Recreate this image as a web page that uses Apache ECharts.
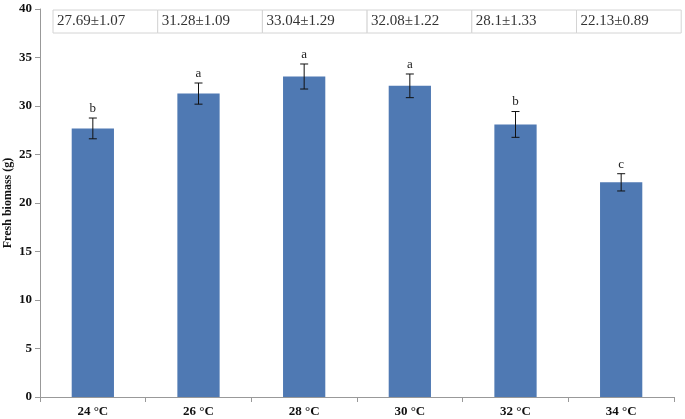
<!DOCTYPE html>
<html><head><meta charset="utf-8">
<script src="https://cdn.jsdelivr.net/npm/echarts@6/dist/echarts.min.js"></script>
<style>html,body{margin:0;padding:0;background:#fff}#c{width:685px;height:419px}</style>
</head><body><div id="c"></div>
<script>
const categories = ['24 °C','26 °C','28 °C','30 °C','32 °C','34 °C'];
const means = [27.69, 31.28, 33.04, 32.08, 28.1, 22.13];
const sds = [1.07, 1.09, 1.29, 1.22, 1.33, 0.89];
const letters = ['b','a','a','a','b','c'];
const tableTexts = ['27.69±1.07','31.28±1.09','33.04±1.29','32.08±1.22','28.1±1.33','22.13±0.89'];
const yTicks = [0,5,10,15,20,25,30,35,40];

const chart = echarts.init(document.getElementById('c'));
const serif = '"Liberation Serif","Times New Roman",serif';

const tableLeft = 53, tableTop = 10, cellW = 104.7, cellH = 23;
const graphic = [];
tableTexts.forEach((t,i)=>{
  graphic.push({type:'rect', shape:{x:tableLeft+i*cellW, y:tableTop, width:cellW, height:cellH},
    style:{fill:'#fff', stroke:'#d4d4d4', lineWidth:1}, z:10});
  graphic.push({type:'text', x:tableLeft+i*cellW+4, y:tableTop+cellH/2,
    style:{text:t, font:'15px '+serif, fill:'#333', verticalAlign:'middle'}, z:11});
});

chart.setOption({
  animation:false,
  grid:{left:40, right:11, top:9, bottom:22, containLabel:false, outerBoundsMode:'none'},
  xAxis:{type:'category', data:categories,
    axisLine:{lineStyle:{color:'#999'}},
    axisTick:{show:true, alignWithLabel:false, length:5, lineStyle:{color:'#999'}},
    axisLabel:{color:'#111', fontFamily:serif, fontWeight:'bold', fontSize:13, margin:8}},
  yAxis:{type:'value', min:0, max:40, interval:5,
    name:'Fresh biomass (g)', nameLocation:'middle', nameGap:26, nameMoveOverlap:false,
    nameTextStyle:{fontFamily:serif, fontWeight:'bold', fontSize:12, color:'#111'},
    axisLine:{show:true, lineStyle:{color:'#999'}},
    axisTick:{show:true, length:5, inside:false, lineStyle:{color:'#999'}},
    splitLine:{show:false},
    axisLabel:{color:'#111', fontFamily:serif, fontWeight:'bold', fontSize:13, margin:8,
      formatter:v=>yTicks.includes(v)?String(v):''}},
  graphic:graphic,
  series:[
    {type:'bar', data:means, barWidth:'40%', itemStyle:{color:'#4f79b3'}},
    {type:'custom', data:means.map((m,i)=>[i,m,sds[i]]),
      renderItem:function(params, api){
        const i=api.value(0), m=api.value(1), s=api.value(2);
        const top=api.coord([i,m+s]), bot=api.coord([i,m-s]);
        const x=top[0], hw=4;
        const st={stroke:'#111', lineWidth:1};
        return {type:'group', children:[
          {type:'line', shape:{x1:x,y1:top[1],x2:x,y2:bot[1]}, style:st},
          {type:'line', shape:{x1:x-hw,y1:top[1],x2:x+hw,y2:top[1]}, style:st},
          {type:'line', shape:{x1:x-hw,y1:bot[1],x2:x+hw,y2:bot[1]}, style:st},
          {type:'text', x:x, y:top[1]-3, style:{text:letters[i], font:'13px '+serif, fill:'#222', align:'center', verticalAlign:'bottom'}}
        ]};
      }, z:5}
  ]
});
</script></body></html>
